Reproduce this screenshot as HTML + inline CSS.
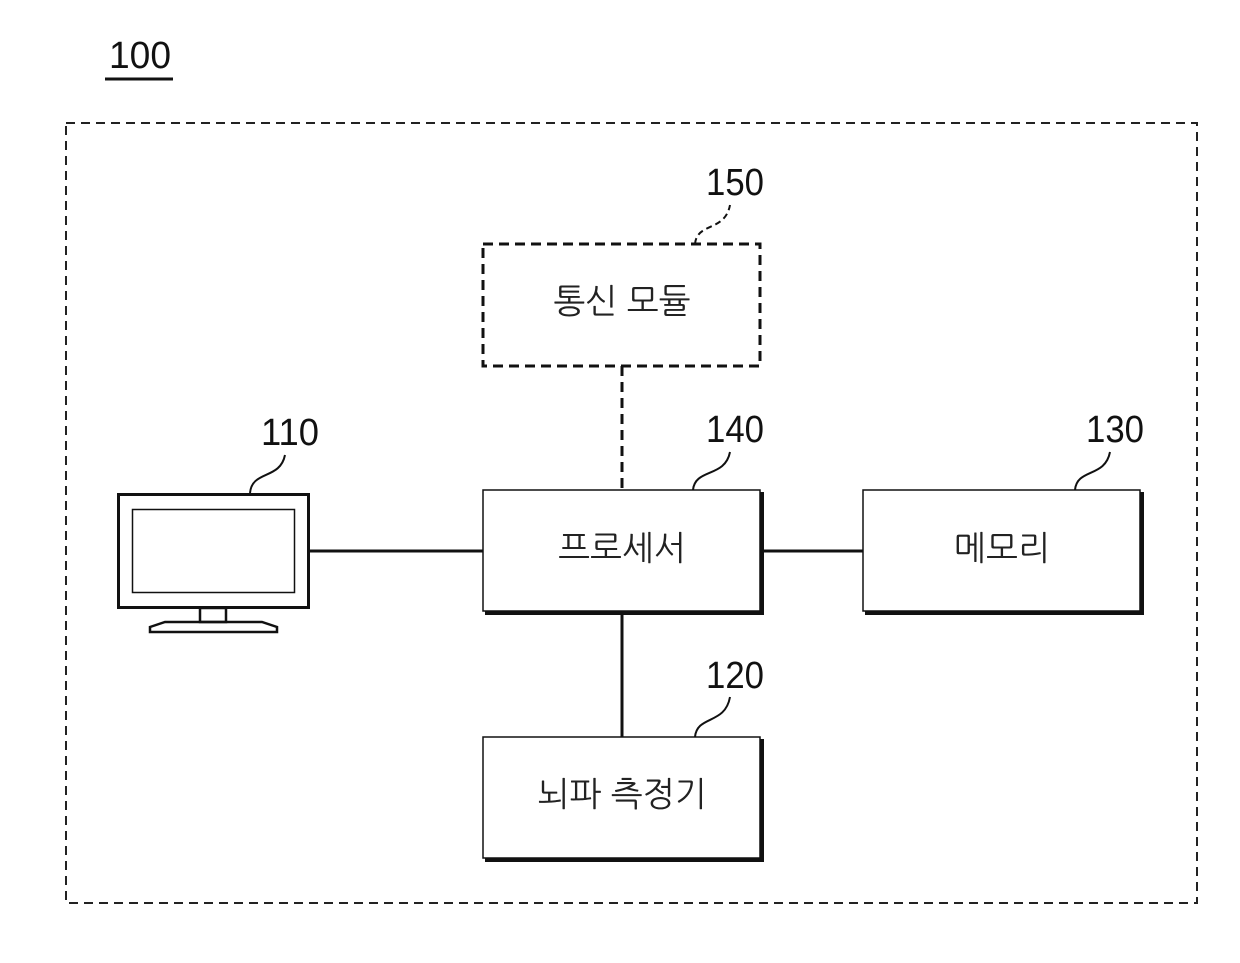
<!DOCTYPE html>
<html><head><meta charset="utf-8"><style>
body{margin:0;background:#fff}
</style></head><body>
<svg width="1240" height="963" viewBox="0 0 1240 963" xmlns="http://www.w3.org/2000/svg" style="display:block">
<g font-family="'Liberation Sans Narrow','Liberation Sans',sans-serif" font-size="38" fill="#111">
<text x="140" y="68" text-anchor="middle" textLength="62" lengthAdjust="spacingAndGlyphs">100</text>
<text x="290" y="445" text-anchor="middle" textLength="58" lengthAdjust="spacingAndGlyphs">110</text>
<text x="735" y="442" text-anchor="middle" textLength="58" lengthAdjust="spacingAndGlyphs">140</text>
<text x="1115" y="442" text-anchor="middle" textLength="58" lengthAdjust="spacingAndGlyphs">130</text>
<text x="735" y="688" text-anchor="middle" textLength="58" lengthAdjust="spacingAndGlyphs">120</text>
<text x="735" y="195" text-anchor="middle" textLength="58" lengthAdjust="spacingAndGlyphs">150</text>
</g>
<line x1="105" y1="79" x2="173" y2="79" stroke="#111" stroke-width="3"/>
<rect x="66" y="123" width="1131" height="780" fill="none" stroke="#222" stroke-width="2" stroke-dasharray="9,6"/>
<g fill="none" stroke="#111" stroke-width="2">
<path d="M250 493 C252 470 280 480 285 455"/>
<path d="M693 490 C695 468 725 478 730 452"/>
<path d="M1075 490 C1077 468 1105 478 1110 452"/>
<path d="M695 737 C697 715 725 725 730 697"/>
<path d="M695 244 C697 222 725 232 730 205" stroke-dasharray="6,4"/>
</g>
<!-- comm module -->
<rect x="483" y="244" width="277" height="122" fill="none" stroke="#111" stroke-width="3" stroke-dasharray="10,6"/>
<line x1="622" y1="366" x2="622" y2="490" stroke="#111" stroke-width="3" stroke-dasharray="10,6"/>
<!-- lines -->
<line x1="309" y1="551" x2="483" y2="551" stroke="#111" stroke-width="3"/>
<line x1="762" y1="551" x2="863" y2="551" stroke="#111" stroke-width="3"/>
<line x1="622" y1="613" x2="622" y2="737" stroke="#111" stroke-width="3"/>
<!-- boxes -->
<g fill="#fff" stroke="#111" stroke-width="1.5">
<rect x="483" y="490" width="277" height="121"/>
<rect x="863" y="490" width="277" height="121"/>
<rect x="483" y="737" width="277" height="121"/>
</g>
<g stroke="#111" stroke-width="4" fill="none">
<path d="M762 492 V613 H485"/>
<path d="M1142 492 V613 H865"/>
<path d="M762 739 V860 H485"/>
</g>
<!-- monitor -->
<rect x="118.5" y="494.5" width="190" height="113" fill="#fff" stroke="#111" stroke-width="3"/>
<rect x="132.5" y="509.5" width="162" height="83" fill="none" stroke="#111" stroke-width="1.5"/>
<rect x="200" y="608" width="26" height="14" fill="none" stroke="#111" stroke-width="2.5"/>
<path d="M150 627 L165 622 H262 L277 627 V632 H150 Z" fill="none" stroke="#111" stroke-width="2.5"/>
<g font-family="'Liberation Sans','NanumGothic','Noto Sans CJK KR',sans-serif" font-size="34" fill="#222" text-anchor="middle">
<text x="622" y="313">통신 모듈</text>
<text x="622" y="560">프로세서</text>
<text x="1002" y="560">메모리</text>
<text x="622" y="806">뇌파 측정기</text>
</g>
</svg>
</body></html>
